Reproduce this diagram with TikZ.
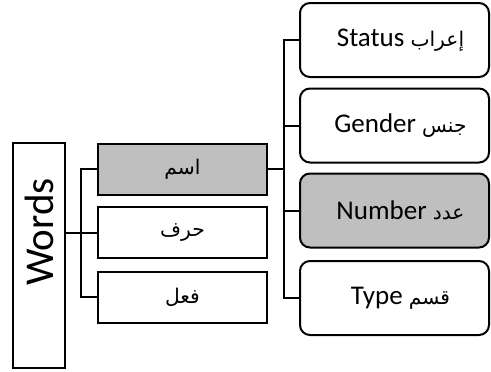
\documentclass[tikz,border=0pt]{standalone}
\usepackage{fontspec}
\setmainfont{Carlito}
\newfontfamily\arabicfont[Script=Arabic,Scale=0.75]{DejaVu Sans}
\TeXXeTstate=1
\usetikzlibrary{positioning}
\newcommand{\artext}[1]{{\arabicfont\beginR #1\endR}}

\begin{document}
\begin{tikzpicture}[x=1pt, y=-1pt,
                line join=miter,
                link/.style={line width=2pt},
                box/.style={draw, line width=2pt, minimum width=169pt,
                    minimum height=51pt, font=\fontsize{27}{31}\selectfont},
                card/.style={draw, line width=2pt, rounded corners=10pt,
                    minimum width=189pt, minimum height=74pt,
                    font=\fontsize{27}{31}\selectfont,
                    execute at begin node=\hspace*{12pt}},
                picked/.style={fill=gray!50}]
                \useasboundingbox (0,0) rectangle (491,372);

                % left column
                \node[draw, line width=2pt, minimum width=52pt, minimum height=225pt] (words) at (39,255.5) {};
                \node[rotate=90, font=\fontsize{41}{46}\selectfont] (wordslabel) at (39,232) {Words};

                % word classes
                \node[box, picked] (ism)  at (182.5,169) {\artext{اسم}};
                \node[box]         (harf) at (182.5,232.5) {\artext{حرف}};
                \node[box]         (fil)  at (182.5,297) {\artext{فعل}};

                % features of the noun
                \node[card]         (status) at (394.5,40)    {Status \artext{إعراب}};
                \node[card]         (gender) at (394.5,125.5) {Gender \artext{جنس}};
                \node[card, picked] (number) at (394.5,210.5) {Number \artext{عدد}};
                \node[card]         (type)   at (394.5,298)   {Type \artext{قسم}};

                \coordinate[left=16pt of ism.west] (ljoin);
                \coordinate[right=16pt of ism.east] (rjoin);

                % connectors
                \draw[link] (words.east |- harf.west) -- (harf.west);
                \draw[link] (ism.west) -- (ljoin) |- (fil.west);
                \draw[link] (ism.east) -- (rjoin);
                \draw[link] (status.west) -| (rjoin) |- (type.west);
                \draw[link] (rjoin |- gender.west) -- (gender.west);
                \draw[link] (rjoin |- number.west) -- (number.west);
            \end{tikzpicture}
\end{document}
